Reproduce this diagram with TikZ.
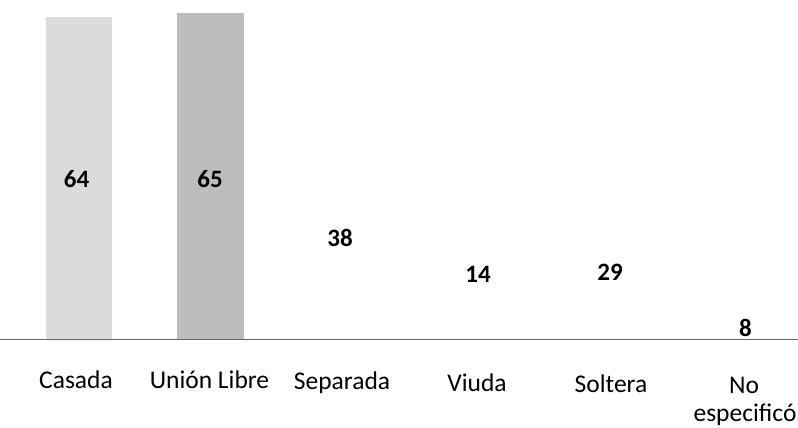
\documentclass[tikz,border=0pt]{standalone}
\usepackage{fontspec}
\setmainfont{Carlito}
\begin{document}
\begin{tikzpicture}[x=1pt,y=-1pt,
  cat/.style={font=\fontsize{25.5}{30}\selectfont, inner sep=0pt, anchor=base},
  val/.style={font=\bfseries\fontsize{25}{30}\selectfont, inner sep=0pt},
  bar/.style={draw=none}]
\useasboundingbox (0,0) rectangle (798,428);
% bars
\fill[bar, black!14] (46,17) rectangle (112,339);
\fill[bar, black!26] (177,13) rectangle (244,339);
% axis
\coordinate (axl) at (0,339.5);
\coordinate (axr) at (798,339.5);
\draw[black!60, line width=1.2pt] (axl) -- (axr);
% values
\node[val] (v1) at (76.5,179.5) {64};
\node[val] (v2) at (210,179.5) {65};
\node[val] (v3) at (340,237.5) {38};
\node[val] (v4) at (478,274.5) {14};
\node[val] (v5) at (610,272.5) {29};
\node[val] (v6) at (745.5,327.5) {8};
% categories
\node[cat] (c1) at (76,388) {Casada};
\node[cat] (c2) at (209.5,388) {Unión Libre};
\node[cat] (c3) at (342,389) {Separada};
\node[cat] (c4) at (477,391) {Viuda};
\node[cat] (c5) at (611,392) {Soltera};
\node[cat] (c6a) at (744,393) {No};
\node[cat] (c6b) at (745,421) {especificó};
\end{tikzpicture}
\end{document}
